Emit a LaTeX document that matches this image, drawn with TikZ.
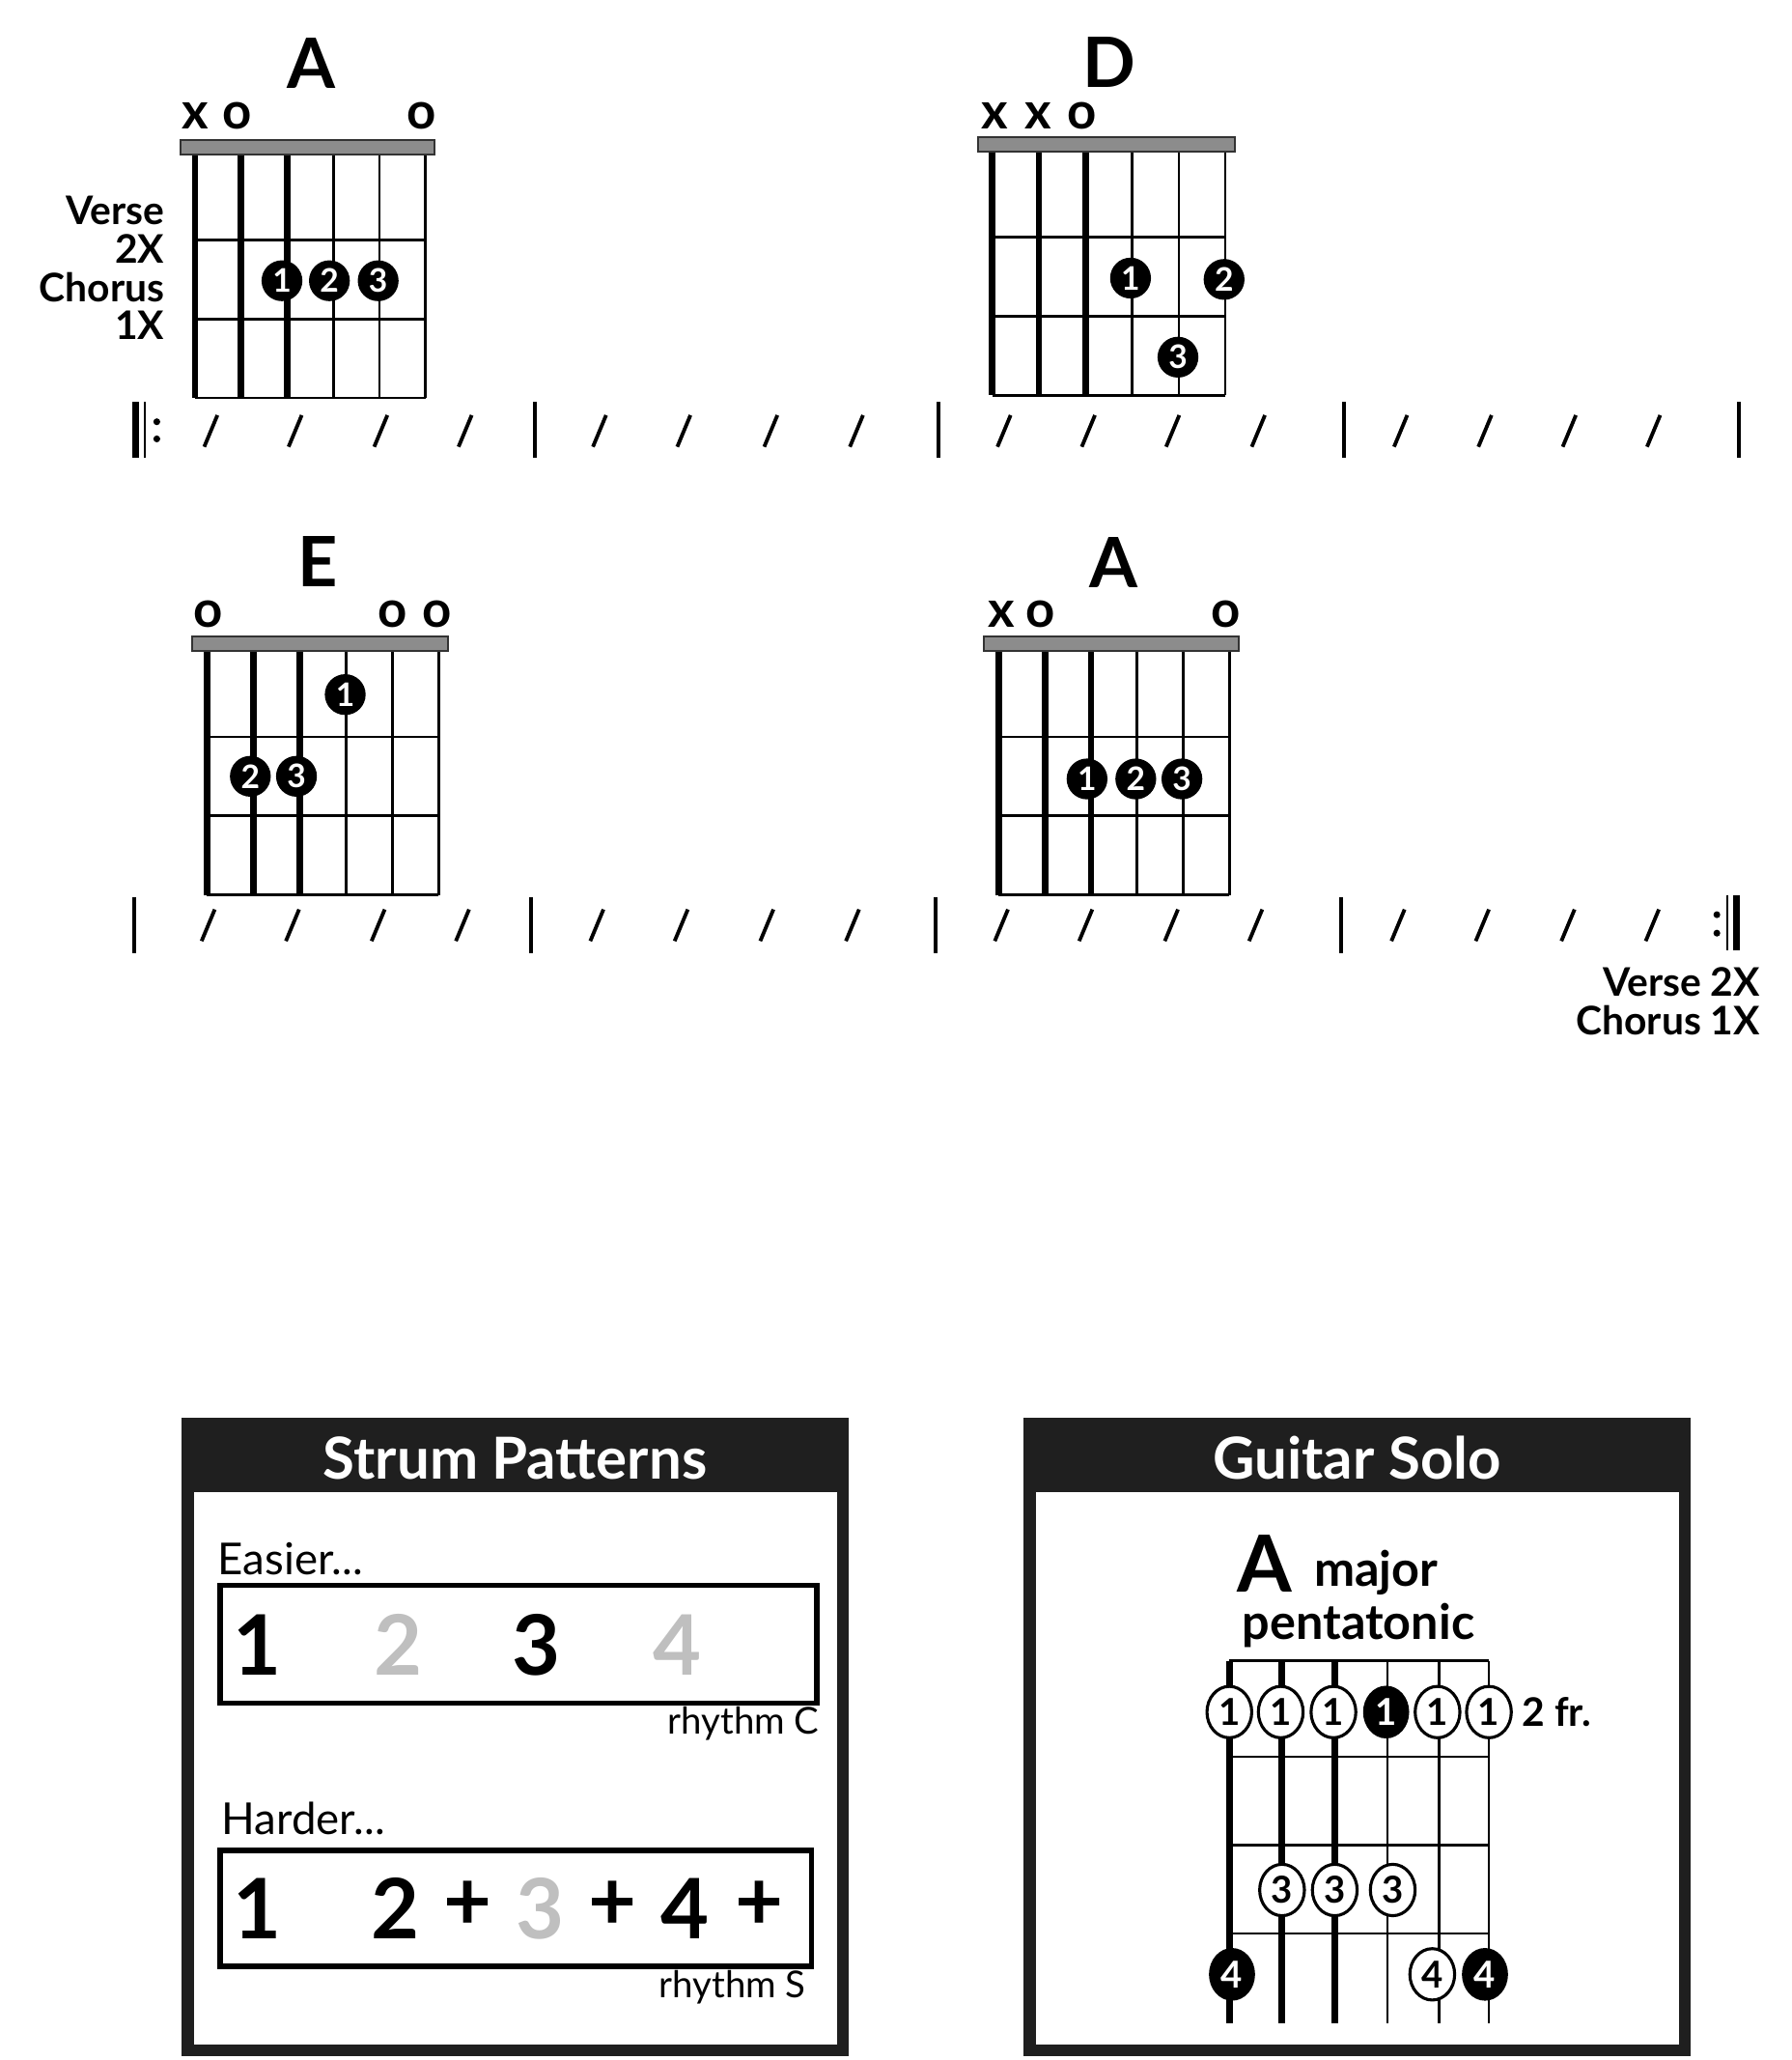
\documentclass[tikz,border=0pt]{standalone}
\usepackage{fontspec}
\setmainfont{Lato}
\usetikzlibrary{shapes.geometric}
\begin{document}
\begin{tikzpicture}[x=0.02cm,y=-0.02cm,
 thickstr/.style={line width=2.8pt},
 thinstr/.style={line width=1.1pt},
 fing/.style={circle,fill=black,text=white,inner sep=0pt,minimum size=0.62cm,font=\fontsize{14}{14}\bfseries},
 ofing/.style={ellipse,draw=black,line width=1.3pt,fill=white,inner sep=0pt,minimum width=0.68cm,minimum height=0.78cm,font=\fontsize{16}{16}\bfseries},
 bfing/.style={ellipse,fill=black,text=white,inner sep=0pt,minimum width=0.7cm,minimum height=0.8cm,font=\fontsize{16}{16}\bfseries},
 omark/.style={font=\fontsize{22}{22}\bfseries,inner sep=0pt},
 ctitle/.style={font=\fontsize{30}{30}\bfseries,inner sep=0pt},
 lab/.style={font=\fontsize{17}{20}\bfseries,inner sep=0pt,anchor=east},
 slash/.style={line width=1.6pt},
 bar/.style={line width=1.7pt},
 strum/.style={font=\fontsize{36}{36}\bfseries,inner sep=0pt},
 small/.style={font=\fontsize{16}{16}\selectfont,inner sep=0pt},
 gr/.style={text=black!25}]
\useasboundingbox (0,0) rectangle (1360,1563);
\newcommand\chordbox[3]{%
 \foreach \i in {0,1,2} \draw[thickstr] (#1+\i*#2,#3) -- (#1+\i*#2,#3+190);
 \foreach \i in {3,4,5} \draw[thinstr] (#1+\i*#2,#3) -- (#1+\i*#2,#3+190);
 \foreach \f in {70,130,190} \draw[thinstr] (#1,#3+\f) -- (#1+5*#2,#3+\f);
 \draw[fill=black!45,draw=black!80,line width=0.8pt] (#1-11,#3-6) rectangle (#1+5*#2+7,#3+5);
}
\newcommand\slashes[2]{\foreach \x in {#1} \draw[slash] (\x-5,#2+12) -- (\x+5,#2-12);}
% chord A
\chordbox{148}{35}{112}
\node[ctitle] (tA) at (236,48) {A};
\node[omark] at (148,88) {x}; \node[omark] at (180,88) {o}; \node[omark] at (320,88) {o};
\node[fing] at (214,213) {1}; \node[fing] at (250,213) {2}; \node[fing] at (287,213) {3};
\node[lab] at (125,160) {Verse}; \node[lab] at (125,189) {2X};
\node[lab] at (125,218) {Chorus}; \node[lab] at (125,247) {1X};
% chord D
\chordbox{753}{35.4}{110}
\node[ctitle] (tD) at (842,47) {D};
\node[omark] at (755,88) {x}; \node[omark] at (788,88) {x}; \node[omark] at (821,88) {o};
\node[fing] at (858,211) {1}; \node[fing] at (929,212) {2}; \node[fing] at (894,271) {3};
% chord E
\chordbox{157}{35.2}{489}
\node[ctitle] (tE) at (241,426) {E};
\node[omark] at (158,466) {o}; \node[omark] at (298,466) {o}; \node[omark] at (332,466) {o};
\node[fing] at (262,527) {1}; \node[fing] at (190,589) {2}; \node[fing] at (225,589) {3};
% chord A2
\chordbox{758}{35}{489}
\node[ctitle] (tA2) at (845,427) {A};
\node[omark] at (760,466) {x}; \node[omark] at (790,466) {o}; \node[omark] at (930,466) {o};
\node[fing] at (825,591) {1}; \node[fing] at (862,591) {2}; \node[fing] at (897,591) {3};
% row 1 rhythm
\draw[line width=2.8pt] (103,305) -- (103,347);
\draw[line width=1.1pt] (110,305) -- (110,347);
\fill (119,320) circle (2.6); \fill (119,333) circle (2.6);
\foreach \x in {406,712,1020,1320} \draw[bar] (\x,305) -- (\x,347);
\slashes{160,224,289,353,455,519,585,650,762,826,890,955,1063,1127,1191,1255}{327}
% row 2 rhythm
\foreach \x in {102,403,710,1018} \draw[bar] (\x,681) -- (\x,723);
\fill (1303,694) circle (2.6); \fill (1303,708) circle (2.6);
\draw[line width=1.1pt] (1311,679) -- (1311,721);
\draw[line width=2.8pt] (1318,679) -- (1318,721);
\slashes{158,222,287,351,453,517,582,647,760,824,889,953,1061,1125,1190,1254}{702}
\node[lab] at (1336,745) {Verse 2X};
\node[lab] at (1336,774) {Chorus 1X};
% Strum box
\fill[black!88] (138,1076) rectangle (644,1560);
\fill[white] (147,1132) rectangle (635,1551);
\node[font=\fontsize{25}{25}\bfseries,text=white,inner sep=0pt] (sp) at (391,1106) {Strum Patterns};
\node[small,font=\fontsize{19}{19}\selectfont,anchor=west] at (165,1183) {Easier...};
\draw[line width=2.2pt] (167,1203) rectangle (620,1292);
\node[strum] at (195,1248) {1}; \node[strum,gr] at (302,1248) {2};
\node[strum] at (407,1248) {3}; \node[strum,gr] at (514,1248) {4};
\node[small,anchor=east] at (622,1308) {rhythm C};
\node[small,font=\fontsize{19}{19}\selectfont,anchor=west] at (168,1380) {Harder...};
\draw[line width=2.2pt] (167,1404) rectangle (616,1492);
\node[strum] at (195,1448) {1}; \node[strum] at (300,1448) {2}; \node[strum] at (355,1446) {+};
\node[strum,gr] at (410,1448) {3}; \node[strum] at (465,1446) {+};
\node[strum] at (520,1448) {4}; \node[strum] at (576,1446) {+};
\node[small,anchor=east] at (612,1508) {rhythm S};
% Solo box
\fill[black!88] (777,1076) rectangle (1283,1560);
\fill[white] (786,1132) rectangle (1274,1551);
\node[font=\fontsize{25}{25}\bfseries,text=white,inner sep=0pt] (gs) at (1030,1106) {Guitar Solo};
\node[font=\fontsize{34}{34}\bfseries,inner sep=0pt] at (960,1186) {A};
\node[font=\fontsize{21}{21}\bfseries,anchor=west,inner sep=0pt] at (997,1193) {major};
\node[font=\fontsize{21}{21}\bfseries,inner sep=0pt] at (1031,1233) {pentatonic};
\foreach \x in {933,973,1013} \draw[line width=2.8pt] (\x,1260) -- (\x,1535);
\foreach \x in {1053,1092,1130} \draw[thinstr] (\x,1260) -- (\x,1535);
\foreach \y in {1260,1333,1400,1467} \draw[thinstr] (933,\y) -- (1130,\y);
\foreach \x in {933,972,1012,1091,1130} \node[ofing] at (\x,1299) {1};
\node[bfing] at (1052,1299) {1};
\node[font=\fontsize{17}{17}\bfseries,anchor=west,inner sep=0pt] at (1155,1299) {2 fr.};
\foreach \x in {973,1013,1057} \node[ofing] at (\x,1434) {3};
\node[bfing] at (935,1498) {4}; \node[ofing] at (1087,1498) {4}; \node[bfing] at (1127,1498) {4};
\end{tikzpicture}
\end{document}
